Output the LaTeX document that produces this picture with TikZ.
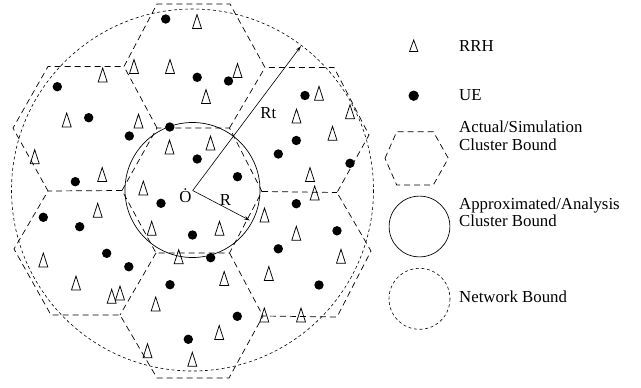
\documentclass[tikz,border=0pt]{standalone}
\usepackage{fontspec}
\setmainfont{Liberation Serif}
\usetikzlibrary{arrows.meta}
\begin{document}
\begin{tikzpicture}[x=1pt,y=-1pt,
  every node/.style={font=\fontsize{16.8}{17.6}\selectfont, inner sep=0pt},
  hexline/.style={dash pattern=on 6pt off 4pt, line width=0.7pt},
  netline/.style={dash pattern=on 3pt off 2.6pt, line width=0.6pt},
  anacircle/.style={line width=0.7pt},
  radarrow/.style={line width=0.6pt, -{Stealth[length=6pt,width=3.5pt,open]}},
  uedot/.style={fill=black, draw=none},
  rrh/.pic={\draw[line width=0.75pt, line join=miter] (-4.5,7) -- (0,-7) -- (4.5,7) -- cycle;},
  rrhsmall/.pic={\draw[line width=0.75pt, line join=miter] (-4.2,5.8) -- (0,-5.8) -- (4.2,5.8) -- cycle;}
]
\useasboundingbox (0,0) rectangle (641,388);

% ---- hexagon grid vertices
\coordinate (c1) at (122,190.5);
\coordinate (c2) at (157,128);
\coordinate (c3) at (229.5,128);
\coordinate (c4) at (262,191.5);
\coordinate (c5) at (229.5,253);
\coordinate (c6) at (156,253);
\coordinate (t1) at (124,66.5);
\coordinate (t2) at (157,4);
\coordinate (t3) at (230,4);
\coordinate (t4) at (265,67.5);
\coordinate (ur1) at (334,67.5);
\coordinate (ur2) at (369,135);
\coordinate (lr1) at (337,192.5);
\coordinate (lr2) at (371,251);
\coordinate (lr3) at (337,317);
\coordinate (b3) at (263,316);
\coordinate (b2) at (229,378);
\coordinate (b1) at (157,378);
\coordinate (ll3) at (120,315);
\coordinate (ll2) at (51,315);
\coordinate (ll1) at (14,249);
\coordinate (ul3) at (48,191);
\coordinate (ul2) at (13,128);
\coordinate (ul1) at (48,66.5);

% central cluster hexagon
\draw[hexline] (c1) -- (c2) -- (c3) -- (c4) -- (c5) -- (c6) -- cycle;
% spokes between neighbouring clusters
\draw[hexline] (c2) -- (t1);
\draw[hexline] (c3) -- (t4);
\draw[hexline] (c4) -- (lr1);
\draw[hexline] (c5) -- (b3);
\draw[hexline] (c6) -- (ll3);
\draw[hexline] (c1) -- (ul3);
% outer ring of the six surrounding clusters
\draw[hexline] (t1) -- (t2) -- (t3) -- (t4) -- (ur1) -- (ur2) -- (lr1) -- (lr2)
  -- (lr3) -- (b3) -- (b2) -- (b1) -- (ll3) -- (ll2) -- (ll1) -- (ul3) -- (ul2)
  -- (ul1) -- cycle;

% ---- network bound and analysis circle
\coordinate (O) at (192.7,190.5);
\draw[netline] (192.5,190) circle[radius=181];
\draw[anacircle] (192.5,190) circle[radius=67.5];

% ---- UEs
\foreach \p in {(165.7,19),(57.3,86.7),(197.2,77.3),(228.5,81),(88.7,117.7),
  (305,95.5),(169.8,127),(129.3,136),(296.3,140.5),(278.3,154),(197.2,159),
  (350,163.3),(237.5,176.7),(75.3,181.7),(161,203.3),(296.3,203.7),(43.3,217.3),
  (79.7,226.7),(337,230.8),(192.5,235),(106.7,253.3),(278.3,248.8),(210.7,257.7),
  (128.8,266.7),(319,285),(170,284.7),(237.3,316.3),(188.3,339.3)}
  \fill[uedot] \p circle[radius=4.7];

% ---- RRHs
\foreach \p in {(197,21.5),(134,66.5),(102.7,75),(170,66.5),(237.5,70.5),
  (206,96.5),(66.7,120),(138.5,121),(319,93.3),(296.5,116),(350,111.7),
  (332.5,133.3),(34.7,156.7),(169.5,147),(210.5,143),(102.2,174.5),(143.3,188),
  (310,174.5),(314.7,193),(97.7,210.3),(264.5,215),(151.7,228.3),(219.5,228.3),
  (296.3,233.3),(43.3,260),(178.7,256.7),(341,256.3),(224.2,278.5),(76,283),
  (268.8,273.5),(111.7,296.3),(120,293),(155.7,304),(264.3,315),(301,315),
  (219.2,332.5),(147.5,350.7),(192.3,359.3)}
  \pic at \p {rrh};

% ---- radii
\coordinate (rtend) at (301,46);
\coordinate (rend) at (250,220.5);
\draw[radarrow] (O) -- (rtend);
\draw[radarrow] (O) -- (rend);
\node (lblO) at (185.5,195.5) {\.{O}};
\node (lblRt) at (268.3,113.3) {Rt};
\node (lblR) at (225.5,199.5) {R};

% ---- legend
\pic at (413.7,45.8) {rrhsmall};
\node[anchor=base west] (legRRH) at (459,51.7) {RRH};
\fill[uedot] (413.7,95.7) circle[radius=5.2];
\node[anchor=base west] (legUE) at (459,100) {UE};
\draw[hexline] (385,158.3) -- (396.7,131.7) -- (433.3,131.7) -- (448.3,158.3)
  -- (433.3,185) -- (396.7,185) -- cycle;
\node[anchor=base west, align=left] (legAct) at (459,150) {Actual/Simulation\\Cluster Bound};
\draw[anacircle] (419.5,226.5) circle[radius=30.4];
\node[anchor=base west, align=left] (legApp) at (459,226.7) {Approximated/Analysis\\Cluster Bound};
\draw[netline] (419.5,298.8) circle[radius=30.5];
\node[anchor=base west] (legNet) at (459,302.3) {Network Bound};
\end{tikzpicture}
\end{document}
